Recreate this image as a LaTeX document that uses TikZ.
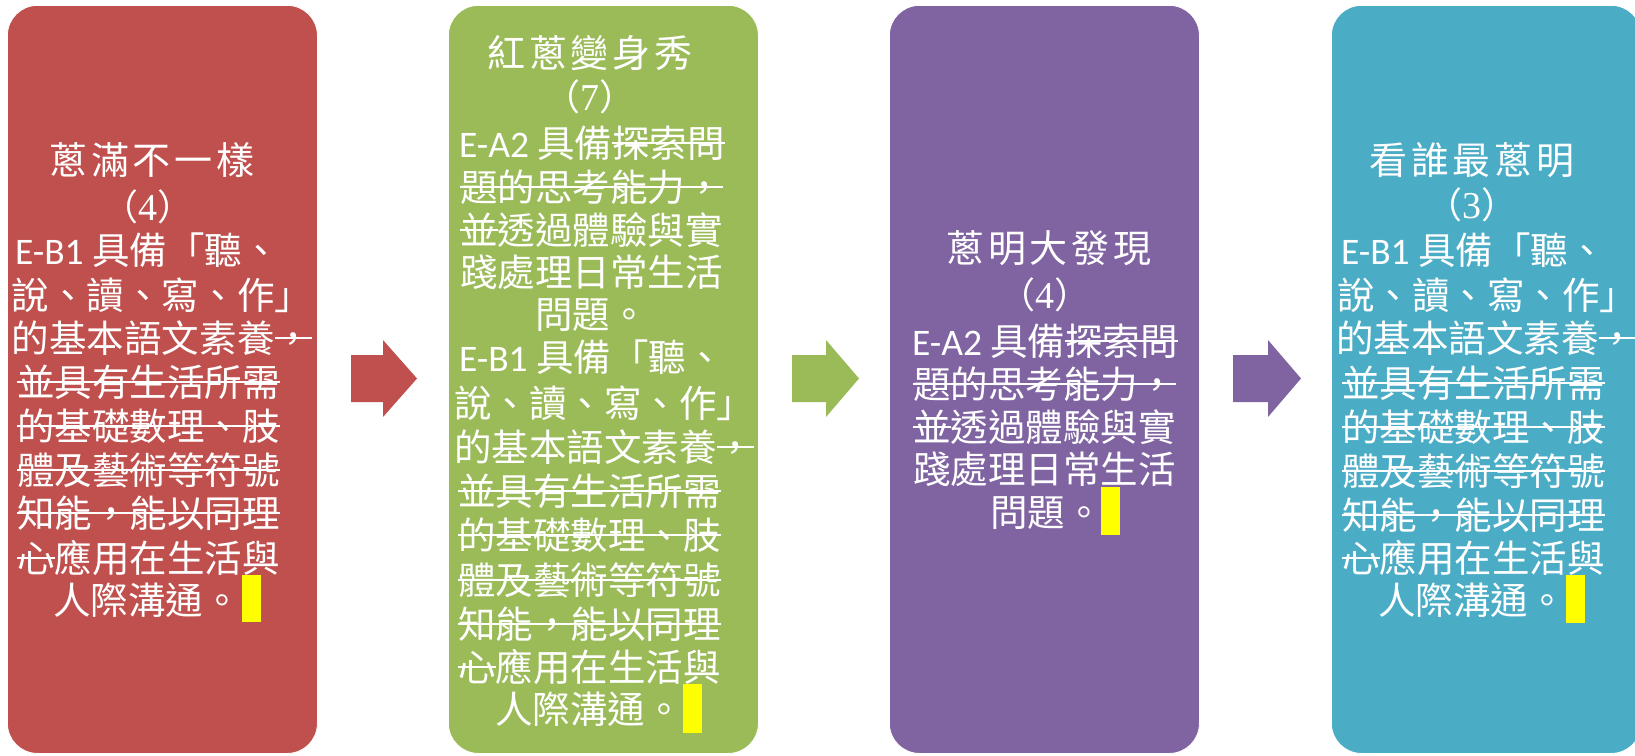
\documentclass[tikz,border=0pt]{standalone}
\usepackage{fontspec}
\setmainfont{Noto Sans CJK TC}
\newfontfamily\cjk{Noto Sans CJK TC}
\newfontfamily\cjkt[LetterSpace=10]{Noto Sans CJK TC}
\newfontfamily\lat{Carlito}
\newfontfamily\serifd{Liberation Serif}
\definecolor{cred}{HTML}{C0504D}
\definecolor{cgreen}{HTML}{9BBB59}
\definecolor{cpurple}{HTML}{8064A2}
\definecolor{cblue}{HTML}{4BACC6}
\definecolor{hlyellow}{HTML}{FFFF00}
\tikzset{
  box/.style={anchor=north west, minimum width=310pt, minimum height=748pt,
    rounded corners=30pt, draw=white, line width=0.8pt, inner sep=0pt},
  ln/.style={anchor=west, inner sep=0pt, outer sep=0pt, text=white,
    font=\cjk\fontsize{37.5}{40}\selectfont, text height=33pt, text depth=4.5pt},
  ttl/.style={anchor=center, inner sep=0pt, text=white,
    font=\cjkt\fontsize{38}{40}\selectfont, text height=33.4pt, text depth=4.6pt},
  par/.style={anchor=center, inner sep=0pt, text=white,
    font=\cjk\fontsize{36}{40}\selectfont, text height=31.7pt, text depth=4.3pt},
  strk/.style={draw=white, line width=1.6pt},
  struck/.style={append after command={(\tikzlastnode.west) edge[strk] (\tikzlastnode.east)}},
  hl/.style={fill=hlyellow},
}
\newcommand\dig[1]{{\serifd\fontsize{38}{40}\selectfont #1}}
\begin{document}
\begin{tikzpicture}[x=1pt,y=-1pt]
\useasboundingbox (0,0) rectangle (1635,755);
% boxes
\node[box, fill=cred]    (b1) at (7,5) {};
\node[box, fill=cgreen]  (b2) at (448,5) {};
\node[box, fill=cpurple] (b3) at (889,5) {};
\node[box, fill=cblue]   (b4) at (1331,5) {};
% arrows
\fill[cred] (351,355) -- (383,355) -- (383,340) -- (417,378.5) -- (383,417) -- (383,402) -- (351,402) -- cycle;
\fill[cgreen] (792,355) -- (826,355) -- (826,340) -- (859,378.5) -- (826,417) -- (826,402) -- (792,402) -- cycle;
\fill[cpurple] (1233,355) -- (1268,355) -- (1268,340) -- (1301,378.5) -- (1268,417) -- (1268,402) -- (1233,402) -- cycle;
% ---------- box 1
\node[ttl] (b1t) at (152,160) {蔥滿不一樣};
\node[par] (b1p) at (148,207) {（\dig{4}）};
\node[ln] (b1a) at (15,250) {{\lat E-B1 }具備「聽、};
\node[ln] (b1b) at (12,295) {說、讀、寫、作」};
\node[ln] (b1c) at (12,338) {的基本語文素養};
\node[ln, struck] (b1c2) at (b1c.east) {，};
\node[ln, struck] (b1d) at (17,382) {並具有生活所需};
\node[ln, struck] (b1e) at (17,426) {的基礎數理、肢};
\node[ln, struck] (b1f) at (17,470) {體及藝術等符號};
\node[ln, struck] (b1g) at (17,513) {知能，能以同理};
\node[ln, struck] (b1h) at (17,558) {心};
\node[ln] (b1h2) at (b1h.east) {應用在生活與};
\node[ln] (b1i) at (53,600) {人際溝通。};
\fill[hl] (242,575) rectangle (261,622);
% ---------- box 2
\node[ttl] (b2t) at (590,53) {紅蔥變身秀};
\node[par] (b2p) at (590,97) {（\dig{7}）};
\node[ln] (b2a) at (459,143) {{\lat E-A2 }具備};
\node[ln, struck] (b2a2) at (b2a.east) {探索問};
\node[ln, struck] (b2b) at (460,187) {題的思考能力，};
\node[ln, struck] (b2c) at (460,230) {並};
\node[ln] (b2c2) at (b2c.east) {透過體驗與實};
\node[ln] (b2d) at (460,272) {踐處理日常生活};
\node[ln] (b2e) at (535,314) {問題。};
\node[ln] (b2f) at (459,357) {{\lat E-B1 }具備「聽、};
\node[ln] (b2g) at (454,403) {說、讀、寫、作」};
\node[ln] (b2h) at (454,447) {的基本語文素養};
\node[ln, struck] (b2h2) at (b2h.east) {，};
\node[ln, struck] (b2i) at (458,491) {並具有生活所需};
\node[ln, struck] (b2j) at (458,535) {的基礎數理、肢};
\node[ln, struck] (b2k) at (458,580) {體及藝術等符號};
\node[ln, struck] (b2l) at (458,624) {知能，能以同理};
\node[ln, struck] (b2m) at (458,667) {心};
\node[ln] (b2m2) at (b2m.east) {應用在生活與};
\node[ln] (b2n) at (495,709) {人際溝通。};
\fill[hl] (683,684) rectangle (702,733);
% ---------- box 3
\node[ttl] (b3t) at (1049,248) {蔥明大發現};
\node[par] (b3p) at (1045,295) {（\dig{4}）};
\node[ln] (b3a) at (912,341) {{\lat E-A2 }具備};
\node[ln, struck] (b3a2) at (b3a.east) {探索問};
\node[ln, struck] (b3b) at (913,384) {題的思考能力，};
\node[ln, struck] (b3c) at (913,427) {並};
\node[ln] (b3c2) at (b3c.east) {透過體驗與實};
\node[ln] (b3d) at (913,469) {踐處理日常生活};
\node[ln] (b3e) at (990,512) {問題。};
\fill[hl] (1101,487) rectangle (1120,535);
% ---------- box 4
\node[ttl] (b4t) at (1472,160) {看誰最蔥明};
\node[par] (b4p) at (1472,205) {（\dig{3}）};
\node[ln] (b4a) at (1341,250) {{\lat E-B1 }具備「聽、};
\node[ln] (b4b) at (1337,295) {說、讀、寫、作」};
\node[ln] (b4c) at (1336,338) {的基本語文素養};
\node[ln, struck] (b4c2) at (b4c.east) {，};
\node[ln, struck] (b4d) at (1342,383) {並具有生活所需};
\node[ln, struck] (b4e) at (1342,427) {的基礎數理、肢};
\node[ln, struck] (b4f) at (1342,471) {體及藝術等符號};
\node[ln, struck] (b4g) at (1342,515) {知能，能以同理};
\node[ln, struck] (b4h) at (1342,558) {心};
\node[ln] (b4h2) at (b4h.east) {應用在生活與};
\node[ln] (b4i) at (1378,600) {人際溝通。};
\fill[hl] (1566,575) rectangle (1585,623);
\end{tikzpicture}
\end{document}
